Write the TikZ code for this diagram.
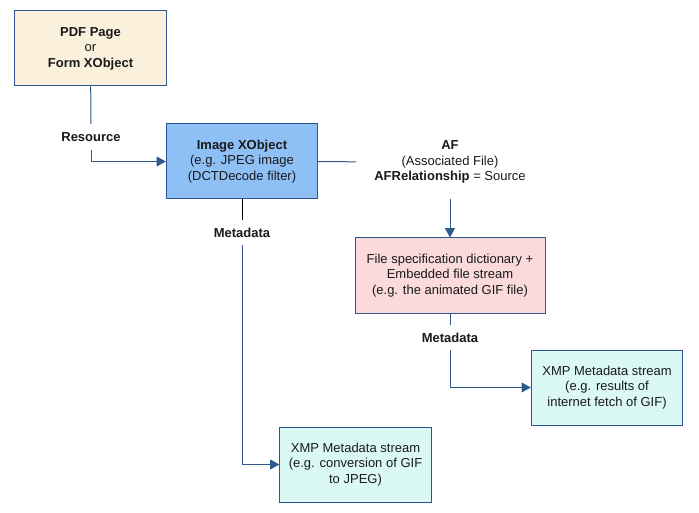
\documentclass[tikz,border=0pt]{standalone}
\usepackage{fontspec}
\setmainfont{Liberation Sans}
\usepackage{xcolor}
\usetikzlibrary{arrows.meta, positioning}

\definecolor{edgeblue}{HTML}{2F5496}
\definecolor{lineblue}{HTML}{2E5A8E}
\definecolor{inktext}{HTML}{1A1A1A}
\definecolor{pagefill}{HTML}{FAF0DC}
\definecolor{imgfill}{HTML}{8EC0F5}
\definecolor{filefill}{HTML}{FADADA}
\definecolor{xmpfill}{HTML}{DAF9F4}

\begin{document}
\begin{tikzpicture}[
    x=0.75pt, y=-0.75pt,
    every node/.style={font=\fontsize{9.75pt}{11.6pt}\selectfont, text=inktext},
    box/.style={rectangle, draw=edgeblue, line width=0.75pt, minimum width=113.5pt, minimum height=56.25pt, align=center, inner sep=0pt},
    tag/.style={font=\fontsize{9.75pt}{11.6pt}\selectfont\bfseries, minimum height=19pt, inner sep=0pt},
    link/.style={draw=lineblue, line width=0.75pt},
    arrow/.style={link, -{Triangle[length=7pt, width=7.5pt]}}
]
    \useasboundingbox (0,0) rectangle (699,513);

    % Boxes
    \node[box, fill=pagefill] (page) at (90.5,48.5) {\textbf{PDF Page}\\or\\\textbf{Form XObject}};
    \node[box, fill=imgfill] (img) at (242,161.5) {\textbf{Image XObject}\\(e.g. JPEG image\\(DCTDecode filter)};
    \node[box, fill=filefill, minimum width=142.5pt] (filespec) at (450,275.5) {File specification dictionary +\\Embedded file stream\\(e.g. the animated GIF file)};
    \node[box, fill=xmpfill] (xmpfile) at (607,387.5) {XMP Metadata stream\\(e.g. results of\\internet fetch of GIF)};
    \node[box, fill=xmpfill] (xmpimg) at (355.5,464.5) {XMP Metadata stream\\(e.g. conversion of GIF\\to JPEG)};

    % Labels on the connectors
    \node[tag] (res) at (91,137) {Resource};
    \node[tag] (metaimg) at (242,232.5) {Metadata};
    \node[tag] (metafile) at (450,337.5) {Metadata};
    \node[align=center, inner xsep=13.5pt, minimum height=55.5pt] (af) at (450,162) {\textbf{AF}\\(Associated File)\\\textbf{AFRelationship} = Source};

    % Connectors
    \draw[link] (page) -- (res);
    \draw[arrow] (res) |- (img);
    \draw[link] (img) -- (af);
    \draw[arrow] (af) -- (filespec);
    \draw[link, draw=black] (img) -- (metaimg);
    \draw[arrow] (metaimg) |- (xmpimg);
    \draw[link] (filespec) -- (metafile);
    \draw[arrow] (metafile) |- (xmpfile);
\end{tikzpicture}
\end{document}
